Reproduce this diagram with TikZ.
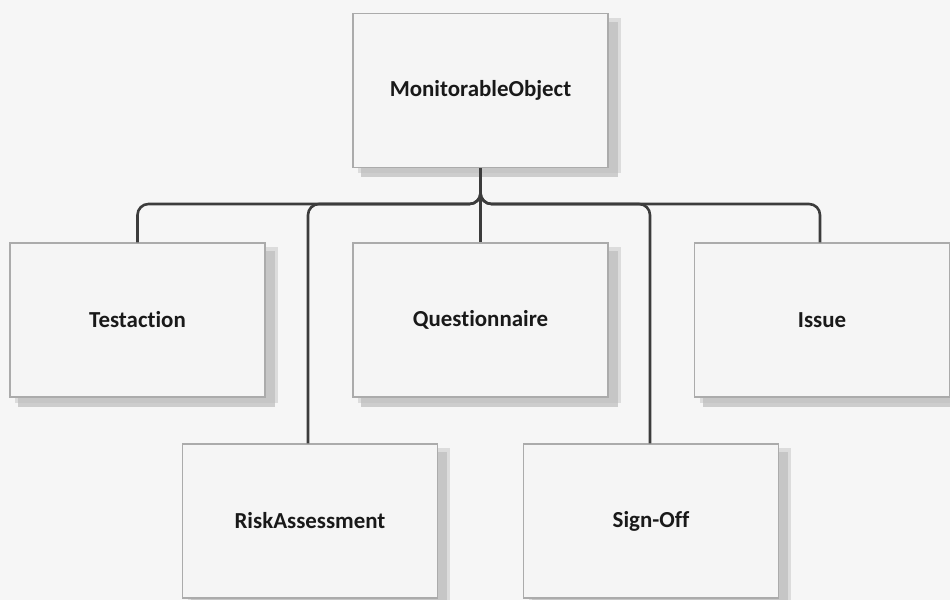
\documentclass[tikz,border=0pt]{standalone}
\usepackage{fontspec}
\setmainfont[Ligatures=NoCommon]{Carlito}
\usetikzlibrary{calc}
\definecolor{bgc}{HTML}{F6F6F6}
\definecolor{boxfill}{HTML}{F5F5F5}
\definecolor{boxline}{HTML}{ABABAB}
\definecolor{shadowc}{HTML}{BDBDBD}
\definecolor{linec}{HTML}{3C3C3C}
\tikzset{
  cls/.style={draw=boxline, line width=1.4bp, fill=boxfill, minimum width=255bp, minimum height=154bp, inner sep=0pt, font=\fontsize{23}{27}\selectfont\bfseries, text=black!90},
  conn/.style={draw=linec, line width=2.6bp, rounded corners=11bp},
}
\newcommand{\boxshadow}[1]{%
  \fill[shadowc, opacity=0.45] ($(#1.south west)+(6bp,-5bp)$) rectangle ($(#1.north east)+(12bp,-5bp)$);
  \fill[shadowc, opacity=0.7] ($(#1.south west)+(9bp,-9bp)$) rectangle ($(#1.north east)+(9bp,-9bp)$);
}
\begin{document}
\begin{tikzpicture}[x=1bp,y=-1bp]
\fill[bgc] (0,0) rectangle (950,600);
\useasboundingbox (0,0) rectangle (950,600);
% invisible placement first for shadows
\path
  (480.5,90.5) node[cls, draw=none, fill=none] (mo0) {}
  (137.5,320) node[cls, draw=none, fill=none] (ta0) {}
  (480.5,320) node[cls, draw=none, fill=none] (qu0) {}
  (822,320) node[cls, draw=none, fill=none] (is0) {}
  (310,521) node[cls, draw=none, fill=none] (ra0) {}
  (651,521) node[cls, draw=none, fill=none] (so0) {};
\boxshadow{mo0}
\boxshadow{ta0}
\boxshadow{qu0}
\boxshadow{is0}
\boxshadow{ra0}
\boxshadow{so0}
\node[cls] (mo) at (480.5,90.5) {MonitorableObject};
\node[cls] (ta) at (137.5,320) {Testaction};
\node[cls] (qu) at (480.5,320) {Questionnaire};
\node[cls] (is) at (822,320) {Issue};
\node[cls] (ra) at (310,521) {RiskAssessment};
\node[cls] (so) at (651,521) {Sign-Off};
\coordinate (bus) at (480.5,204);
\draw[conn] (mo.south) -- (mo.south |- bus) -| (ta.north);
\draw[conn] (mo.south) -- (mo.south |- bus) -| ([xshift=-2bp]ra.north);
\draw[conn] (mo.south) -- (qu.north);
\draw[conn] (mo.south) -- (mo.south |- bus) -| ([xshift=-1bp]so.north);
\draw[conn] (mo.south) -- (mo.south |- bus) -| ([xshift=-2bp]is.north);
\end{tikzpicture}
\end{document}
